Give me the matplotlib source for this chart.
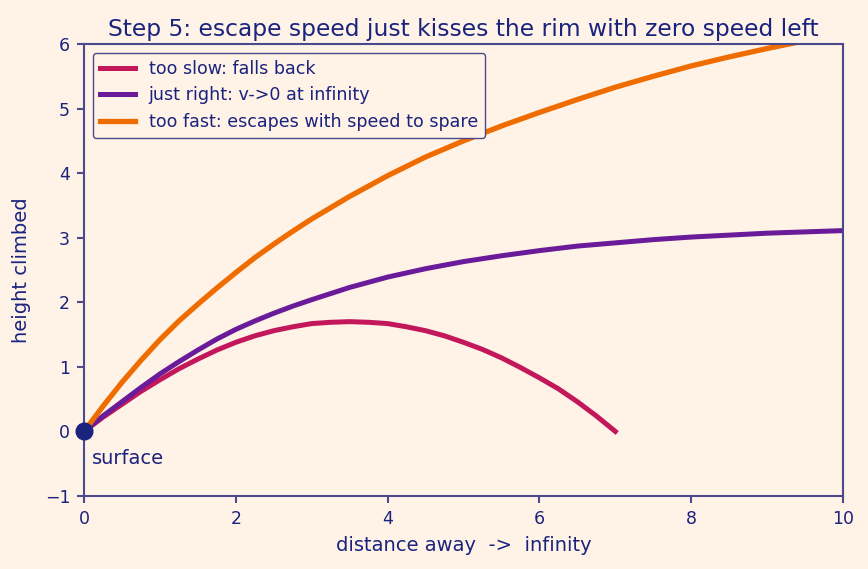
import matplotlib
matplotlib.use("Agg")
import matplotlib.pyplot as plt

# colours
bg = "#fff2e6"
navy = "#1a237e"
spine_col = "#4a4a8c"

# too slow: rises then falls back to the surface
slow_x = [0, 0.25, 0.5, 0.75, 1, 1.25, 1.5, 1.75, 2, 2.25, 2.5, 2.75, 3, 3.25, 3.5,
          3.75, 4, 4.25, 4.5, 4.75, 5, 5.25, 5.5, 5.75, 6, 6.25, 6.5, 6.75, 7]
slow_y = [0, 0.22, 0.42, 0.62, 0.80, 0.97, 1.12, 1.26, 1.38, 1.48, 1.56, 1.62, 1.67, 1.69, 1.70,
          1.69, 1.67, 1.62, 1.56, 1.48, 1.38, 1.27, 1.14, 0.99, 0.83, 0.66, 0.46, 0.24, 0]

# just right: levels off towards a limit
right_x = [0, 0.25, 0.5, 0.75, 1, 1.25, 1.5, 1.75, 2, 2.25, 2.5, 2.75, 3, 3.5, 4,
           4.5, 5, 5.5, 6, 6.5, 7, 7.5, 8, 8.5, 9, 9.5, 10]
right_y = [0, 0.24, 0.46, 0.68, 0.89, 1.08, 1.26, 1.43, 1.58, 1.71, 1.83, 1.94, 2.04, 2.23, 2.39,
           2.52, 2.63, 2.72, 2.80, 2.87, 2.92, 2.97, 3.01, 3.04, 3.07, 3.09, 3.11]

# too fast: keeps climbing
fast_x = [0, 0.25, 0.5, 0.75, 1, 1.25, 1.5, 1.75, 2, 2.25, 2.5, 2.75, 3, 3.5, 4,
          4.5, 5, 5.5, 6, 6.5, 7, 7.5, 8, 8.5, 9, 9.5, 10]
fast_y = [0, 0.39, 0.76, 1.10, 1.42, 1.71, 1.97, 2.22, 2.46, 2.69, 2.90, 3.10, 3.29, 3.64, 3.96,
          4.25, 4.50, 4.73, 4.94, 5.14, 5.33, 5.50, 5.66, 5.80, 5.93, 6.05, 6.16]

fig = plt.figure(figsize=(8.68, 5.69), dpi=100, facecolor=bg)
ax = fig.add_axes([0.0968, 0.1283, 0.8744, 0.7944])
ax.set_facecolor(bg)

ax.plot(slow_x, slow_y, color="#c2185b", lw=3.6, label="too slow: falls back")
ax.plot(right_x, right_y, color="#6a1b9a", lw=3.6, label="just right: v->0 at infinity")
ax.plot(fast_x, fast_y, color="#ef6c00", lw=3.8, label="too fast: escapes with speed to spare")

ax.plot([0], [0], "o", color=navy, ms=12, clip_on=False, zorder=5)
ax.text(0.1, -0.42, "surface", color=navy, fontsize=14, va="center")

ax.set_xlim(0, 10)
ax.set_ylim(-1, 6)
ax.set_xticks([0, 2, 4, 6, 8, 10])
ax.set_yticks(range(-1, 7))

ax.set_title("Step 5: escape speed just kisses the rim with zero speed left",
             color=navy, fontsize=16.8)
ax.set_xlabel("distance away  ->  infinity", color=navy, fontsize=14, labelpad=6)
ax.set_ylabel("height climbed", color=navy, fontsize=14, labelpad=10)

for s in ax.spines.values():
    s.set_color(spine_col)
    s.set_linewidth(1.5)
ax.tick_params(colors=spine_col, labelcolor=navy, labelsize=12.5, width=1.5, length=5, pad=5)

leg = ax.legend(loc="upper left", fontsize=12.6, frameon=True, facecolor=bg,
                edgecolor=spine_col, framealpha=1, handlelength=2.0)
for t in leg.get_texts():
    t.set_color(navy)

fig.savefig("out.png", facecolor=bg)
